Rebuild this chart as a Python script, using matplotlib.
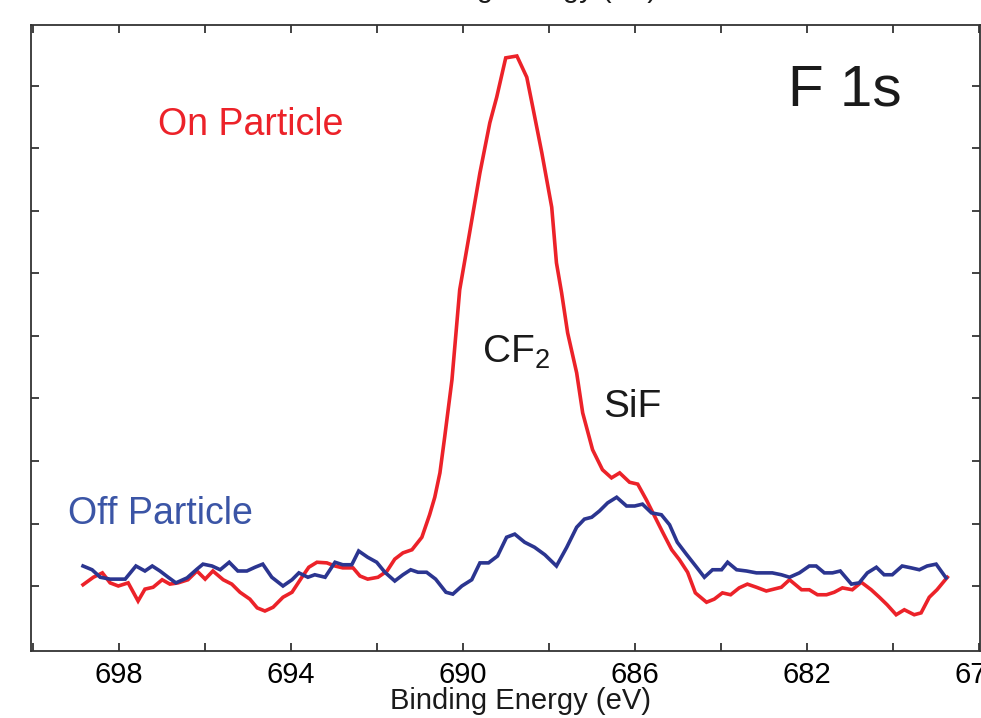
import numpy as np
import matplotlib
matplotlib.use("Agg")
import matplotlib.pyplot as plt

plt.rcParams['font.family'] = ['Liberation Sans', 'DejaVu Sans']
plt.rcParams['mathtext.fontset'] = 'custom'
plt.rcParams['mathtext.rm'] = 'Liberation Sans'
plt.rcParams['mathtext.default'] = 'regular'

# F 1s spectrum, on particle (binding energy in eV, intensity in arb. units)
on_be = [698.84, 698.60, 698.39, 698.21, 698.02, 697.79, 697.56, 697.40, 697.21, 697.00,
         696.82, 696.63, 696.40, 696.19, 696.00, 695.82, 695.58, 695.38, 695.19, 694.96,
         694.79, 694.61, 694.42, 694.19, 693.98, 693.75, 693.59, 693.40, 693.17, 692.98,
         692.80, 692.56, 692.40, 692.22, 691.98, 691.77, 691.59, 691.40, 691.19, 690.96,
         690.78, 690.66, 690.54, 690.43, 690.26, 690.08, 689.85, 689.61, 689.38, 689.22,
         689.01, 688.75, 688.52, 688.38, 688.17, 687.94, 687.83, 687.71, 687.57, 687.36,
         687.22, 686.99, 686.76, 686.55, 686.36, 686.13, 685.94, 685.74, 685.36, 685.15,
         684.97, 684.78, 684.60, 684.34, 684.16, 683.97, 683.78, 683.58, 683.39, 683.18,
         682.95, 682.60, 682.41, 682.13, 681.95, 681.76, 681.55, 681.37, 681.18, 680.95,
         680.74, 680.51, 680.32, 680.14, 679.93, 679.74, 679.51, 679.35, 679.16, 678.98,
         678.74]
on_int = [1.02, 1.14, 1.21, 1.05, 1.00, 1.05, 0.76, 0.95, 0.98, 1.10,
          1.03, 1.05, 1.10, 1.24, 1.11, 1.24, 1.10, 1.03, 0.90, 0.79,
          0.65, 0.60, 0.66, 0.82, 0.90, 1.14, 1.30, 1.38, 1.37, 1.32,
          1.29, 1.29, 1.16, 1.11, 1.14, 1.24, 1.43, 1.53, 1.58, 1.78,
          2.14, 2.42, 2.81, 3.38, 4.30, 5.74, 6.65, 7.61, 8.41, 8.82,
          9.45, 9.48, 9.14, 8.66, 7.93, 7.06, 6.17, 5.69, 5.05, 4.41,
          3.77, 3.18, 2.86, 2.73, 2.81, 2.66, 2.63, 2.38, 1.86, 1.58,
          1.42, 1.22, 0.89, 0.74, 0.79, 0.89, 0.86, 0.97, 1.03, 0.98,
          0.92, 0.98, 1.10, 0.94, 0.94, 0.86, 0.86, 0.90, 0.97, 0.94,
          1.06, 0.94, 0.82, 0.70, 0.54, 0.62, 0.54, 0.57, 0.82, 0.94,
          1.14]

# F 1s spectrum, off particle
off_be = [698.84, 698.63, 698.44, 698.21, 697.86, 697.61, 697.40, 697.23, 697.05, 696.86,
          696.68, 696.42, 696.19, 696.05, 695.84, 695.65, 695.44, 695.24, 695.03, 694.84,
          694.66, 694.45, 694.19, 693.98, 693.82, 693.61, 693.45, 693.21, 692.98, 692.80,
          692.59, 692.43, 692.22, 692.01, 691.82, 691.59, 691.40, 691.22, 691.05, 690.85,
          690.64, 690.40, 690.24, 690.03, 689.80, 689.61, 689.41, 689.20, 688.99, 688.80,
          688.57, 688.34, 688.10, 687.83, 687.59, 687.36, 687.18, 687.01, 686.83, 686.64,
          686.43, 686.20, 686.01, 685.83, 685.62, 685.39, 685.20, 685.02, 684.81, 684.57,
          684.39, 684.20, 683.99, 683.85, 683.64, 683.41, 683.18, 682.81, 682.60, 682.41,
          682.18, 681.95, 681.79, 681.60, 681.41, 681.23, 680.97, 680.79, 680.60, 680.39,
          680.21, 680.02, 679.79, 679.58, 679.39, 679.21, 679.00, 678.77]
off_int = [1.32, 1.26, 1.14, 1.11, 1.11, 1.32, 1.24, 1.32, 1.24, 1.14,
           1.05, 1.13, 1.27, 1.35, 1.32, 1.26, 1.38, 1.24, 1.24, 1.30,
           1.35, 1.14, 1.00, 1.10, 1.21, 1.14, 1.18, 1.14, 1.38, 1.34,
           1.34, 1.56, 1.46, 1.38, 1.22, 1.08, 1.18, 1.26, 1.22, 1.22,
           1.11, 0.90, 0.87, 1.00, 1.10, 1.37, 1.37, 1.48, 1.78, 1.83,
           1.70, 1.62, 1.50, 1.32, 1.62, 1.94, 2.07, 2.10, 2.20, 2.33,
           2.42, 2.28, 2.28, 2.31, 2.17, 2.14, 1.98, 1.70, 1.51, 1.30,
           1.14, 1.26, 1.26, 1.38, 1.26, 1.24, 1.21, 1.21, 1.18, 1.14,
           1.21, 1.32, 1.32, 1.21, 1.21, 1.24, 1.03, 1.05, 1.21, 1.30,
           1.18, 1.18, 1.32, 1.29, 1.26, 1.32, 1.35, 1.13]

xticks = np.arange(678, 701, 2)
xticklabels = ['678', '', '682', '', '686', '', '690', '', '694', '', '698', '']
yticks = np.arange(1, 10)

red = '#ec2229'
navy = '#2b3590'
W, H = 981, 718

fig = plt.figure(figsize=(W / 100, H / 100), dpi=100)
ax = fig.add_axes([31 / W, (H - 651) / H, (980 - 31) / W, (651 - 25) / H])

ax.plot(on_be, on_int, color=red, lw=2.6, solid_joinstyle='miter')
ax.plot(off_be, off_int, color=navy, lw=2.6, solid_joinstyle='miter')

ax.set_xlim(700.05, 677.98)
ax.set_ylim(-0.04, 9.976)
ax.set_xticks(xticks)
ax.set_xticklabels(xticklabels)
ax.set_yticks(yticks)
ax.set_yticklabels([])
ax.tick_params(direction='in', length=6, width=1.2, color='#222222',
               top=True, right=True, labelsize=21, pad=7)
for s in ax.spines.values():
    s.set_linewidth(1.3)
    s.set_color('#333333')

# axis title, repeated along the top edge
fig.text(520 / W, 1 - 709 / H, 'Binding Energy (eV)', fontsize=21,
         ha='center', va='baseline', color='#1a1a1a')
fig.text(527 / W, 1 + 3 / H, 'Binding Energy (eV)', fontsize=21,
         ha='center', va='baseline', color='#1a1a1a')

fig.text(158 / W, 1 - 135 / H, 'On Particle', fontsize=27, color=red,
         ha='left', va='baseline')
fig.text(68 / W, 1 - 524 / H, 'Off Particle', fontsize=27, color='#3b55a6',
         ha='left', va='baseline')
fig.text(482 / W, 1 - 363 / H, 'CF$_2$', fontsize=28, color='#1a1a1a',
         ha='left', va='baseline')
fig.text(603 / W, 1 - 417 / H, 'SiF', fontsize=28, color='#1a1a1a',
         ha='left', va='baseline')
fig.text(788 / W, 1 - 105 / H, 'F 1s', fontsize=42, color='#1a1a1a',
         ha='left', va='baseline')

fig.savefig('out.png', dpi=100)
